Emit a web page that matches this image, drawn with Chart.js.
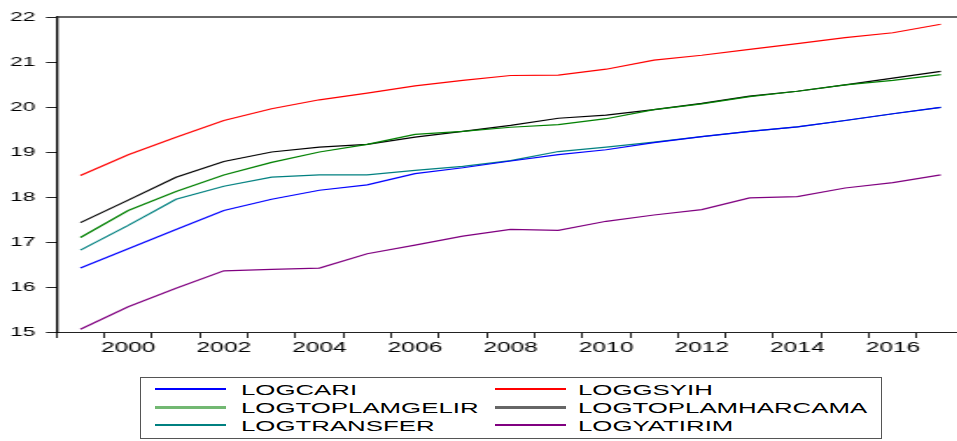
<!DOCTYPE html>
<html>
<head>
<meta charset="utf-8">
<script src="https://cdn.jsdelivr.net/npm/chart.js@4"></script>
<style>
  html, body { margin: 0; padding: 0; background: #fff; }
  body { width: 957px; height: 441px; overflow: hidden; position: relative; font-family: "Liberation Sans", Arial, sans-serif; }
  /* el gráfico original está estirado en horizontal, se imita con scaleX */
  #wrap { position: absolute; left: 0; top: 0; width: 556px; height: 362px; transform: scaleX(1.75); transform-origin: 0 0; }
  #legend { position: absolute; left: 140px; top: 377px; width: 740px; height: 58px; border: 1px solid #555;
            display: grid; grid-template-columns: 340px 400px; grid-auto-rows: 18px; padding-top: 2px; box-sizing: content-box; }
  .item { display: flex; align-items: center; font-size: 15px; color: #000; white-space: nowrap; }
  .swatch { display: block; flex: none; width: 71px; margin-left: 14px; margin-right: 15px; }
  .item.c2 .swatch { margin-left: 14px; margin-right: 12px; }
  .label { display: inline-block; transform: scaleX(1.72); transform-origin: 0 50%; }
</style>
</head>
<body>
<div id="wrap"><canvas id="chart" width="556" height="362"></canvas></div>
<div id="legend"></div>
<script>
// Series anuales 1999-2017 (logaritmos)
const years = ["1999", "2000", "2001", "2002", "2003", "2004", "2005", "2006", "2007", "2008",
               "2009", "2010", "2011", "2012", "2013", "2014", "2015", "2016", "2017"];

const logCari = [16.42, 16.85, 17.28, 17.70, 17.95, 18.15, 18.27, 18.52, 18.65, 18.80,
                 18.94, 19.05, 19.21, 19.34, 19.46, 19.56, 19.70, 19.85, 19.99];
const logGsyih = [18.48, 18.94, 19.33, 19.70, 19.96, 20.16, 20.31, 20.47, 20.59, 20.70,
                  20.71, 20.84, 21.04, 21.15, 21.28, 21.41, 21.54, 21.65, 21.84];
const logToplamGelir = [17.10, 17.70, 18.12, 18.49, 18.77, 19.00, 19.17, 19.39, 19.46, 19.55,
                        19.61, 19.74, 19.94, 20.07, 20.23, 20.35, 20.49, 20.59, 20.72];
const logToplamHarcama = [17.43, 17.93, 18.44, 18.79, 19.00, 19.11, 19.17, 19.33, 19.46, 19.59,
                          19.75, 19.82, 19.94, 20.08, 20.24, 20.35, 20.49, 20.64, 20.79];
const logTransfer = [16.82, 17.37, 17.95, 18.24, 18.44, 18.49, 18.49, 18.59, 18.68, 18.81,
                     19.01, 19.11, 19.22, 19.34, 19.46, 19.56, 19.70, 19.85, 19.99];
const logYatirim = [15.06, 15.56, 15.97, 16.36, 16.39, 16.42, 16.74, 16.93, 17.13, 17.28,
                    17.26, 17.46, 17.60, 17.72, 17.98, 18.01, 18.20, 18.32, 18.49];

const seriesNames = ["LOGCARI", "LOGGSYIH", "LOGTOPLAMGELIR", "LOGTOPLAMHARCAMA", "LOGTRANSFER", "LOGYATIRIM"];
const yTicks = [15, 16, 17, 18, 19, 20, 21, 22];

const seriesColors = ["#0000ff", "#ff0000", "#008000", "#000000", "#008080", "#800080"];
// en la leyenda original dos muestras salen más gruesas y claras
const legendSwatch = [
  { color: "#0000ff", width: 1.5 },
  { color: "#ff0000", width: 1.5 },
  { color: "#72b872", width: 3 },
  { color: "#666666", width: 3 },
  { color: "#008080", width: 1.5 },
  { color: "#800080", width: 1.5 },
];

const values = [logCari, logGsyih, logToplamGelir, logToplamHarcama, logTransfer, logYatirim];

const xFont = { family: "'Liberation Sans', Arial, sans-serif", size: 14 };
const yFont = { family: "'Liberation Sans', Arial, sans-serif", size: 13 };

// línea superior del marco
const topFrame = {
  id: "topFrame",
  afterDraw(chart) {
    const { ctx, chartArea } = chart;
    ctx.save();
    ctx.strokeStyle = "#333";
    ctx.lineWidth = 1.5;
    ctx.beginPath();
    ctx.moveTo(chartArea.left, chartArea.top);
    ctx.lineTo(chartArea.right + 10, chartArea.top);
    ctx.stroke();
    ctx.restore();
  },
};

const chart = new Chart(document.getElementById("chart").getContext("2d"), {
  type: "line",
  data: {
    labels: years,
    datasets: seriesNames.map((name, i) => ({
      label: name,
      data: values[i],
      borderColor: seriesColors[i],
      backgroundColor: seriesColors[i],
      borderWidth: 1.2,
      pointRadius: 0,
      tension: 0,
      fill: false,
    })),
  },
  options: {
    responsive: false,
    animation: false,
    layout: { padding: { top: 17, right: 4.8, left: 0, bottom: 0 } },
    plugins: {
      legend: { display: false },
      tooltip: { enabled: false },
    },
    scales: {
      x: {
        type: "category",
        offset: true,
        grid: { offset: true, drawOnChartArea: false, tickLength: 6, color: "#222" },
        border: { color: "#222", width: 1 },
        ticks: {
          autoSkip: false,
          maxRotation: 0,
          padding: 2,
          color: "#000",
          font: xFont,
          callback: (v, i) => (Number(years[i]) % 2 === 0 ? years[i] : ""),
        },
        afterFit: (s) => { s.height = 30; },
      },
      y: {
        min: yTicks[0],
        max: yTicks[yTicks.length - 1],
        afterBuildTicks: (s) => { s.ticks = yTicks.map((v) => ({ value: v })); },
        grid: { drawOnChartArea: false, tickLength: 6, color: "#222" },
        border: { color: "#000", width: 1.3 },
        ticks: { padding: 6, color: "#000", font: yFont },
        afterFit: (s) => { s.width = 32.3; },
      },
    },
  },
  plugins: [topFrame],
});

// leyenda en HTML, dos columnas por filas
const legendEl = document.getElementById("legend");
chart.data.datasets.forEach((ds, i) => {
  const item = document.createElement("div");
  item.className = "item" + (i % 2 ? " c2" : "");
  const sw = document.createElement("span");
  sw.className = "swatch";
  sw.style.height = legendSwatch[i].width + "px";
  sw.style.background = legendSwatch[i].color;
  const txt = document.createElement("span");
  txt.className = "label";
  txt.textContent = ds.label;
  item.appendChild(sw);
  item.appendChild(txt);
  legendEl.appendChild(item);
});
</script>
</body>
</html>
